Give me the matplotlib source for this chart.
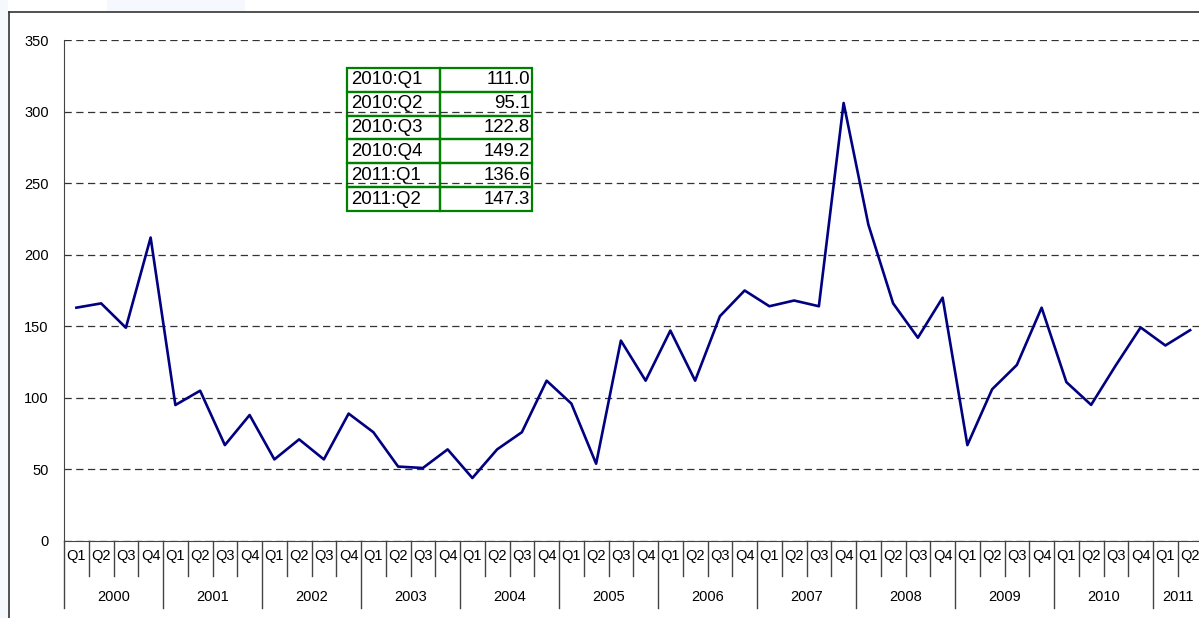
import numpy as np
import matplotlib.pyplot as plt
from matplotlib.transforms import blended_transform_factory
from matplotlib.patches import Rectangle

plt.rcParams['font.family'] = ['Liberation Sans', 'DejaVu Sans']

# --- Données (trimestrielles 2000:Q1 -> 2011:Q2) ---
years = ["2000", "2001", "2002", "2003", "2004", "2005",
         "2006", "2007", "2008", "2009", "2010", "2011"]
quarters = ["Q1", "Q2", "Q3", "Q4"]
values = [163, 166, 149, 212,
          95, 105, 67, 88,
          57, 71, 57, 89,
          76, 52, 51, 64,
          44, 64, 76, 112,
          96, 54, 140, 112,
          147, 112, 157, 175,
          164, 168, 164, 306,
          221, 166, 142, 170,
          67, 106, 123, 163,
          111.0, 95.1, 122.8, 149.2,
          136.6, 147.3]
table_labels = ["2010:Q1", "2010:Q2", "2010:Q3", "2010:Q4", "2011:Q1", "2011:Q2"]
table_values = ["111.0", "95.1", "122.8", "149.2", "136.6", "147.3"]

n = len(values)
x = np.arange(n) + 0.5
qlabels = [quarters[i % 4] for i in range(n)]

# --- Figure ---
W, H = 1199, 618
fig = plt.figure(figsize=(W / 100, H / 100), dpi=100)
ax = fig.add_axes([64 / W, 77 / H, 1138.5 / W, 501 / H])

# cadre extérieur + fond bleuté
fig.patches.append(Rectangle((0, 0), 8 / W, 1, transform=fig.transFigure,
                             facecolor="#f5f8fc", edgecolor="none", zorder=0))
fig.patches.append(Rectangle((107 / W, 1 - 12 / H), 138 / W, 12 / H,
                             transform=fig.transFigure, facecolor="#f5f8fc",
                             edgecolor="none", zorder=0))
fig.lines.append(plt.Line2D([9 / W, 1], [1 - 12 / H, 1 - 12 / H],
                            transform=fig.transFigure, color="#333333", lw=1.2))
fig.lines.append(plt.Line2D([9 / W, 9 / W], [0, 1 - 12 / H],
                            transform=fig.transFigure, color="#333333", lw=1.2))

ax.plot(x, values, color="#000080", linewidth=1.9, zorder=3)

ax.set_xlim(0, n)
ax.set_ylim(0, 350)
ax.set_yticks(np.arange(0, 351, 50))
ax.tick_params(axis="y", length=0, pad=11, labelsize=10.5)
ax.set_xticks([])
ax.yaxis.grid(True, linestyle=(0, (5.8, 3.6)), color="#333333", linewidth=0.9)
ax.set_axisbelow(True)

for s in ["top", "right"]:
    ax.spines[s].set_visible(False)
ax.spines["left"].set_color("#444444")
ax.spines["bottom"].set_color("#444444")

# --- Axe des catégories (trimestres / années) ---
tr = blended_transform_factory(ax.transData, ax.transAxes)
for i in range(n):
    ax.text(x[i], -0.030, qlabels[i], transform=tr, ha="center", va="center",
            fontsize=10.5)
for b in range(n + 1):
    low = -0.134 if b % 4 == 0 else -0.070
    ax.plot([b, b], [0, low], transform=tr, color="#444444", lw=1, clip_on=False)
for k, yr in enumerate(years):
    start = 4 * k
    end = min(4 * k + 4, n)
    ax.text((start + end) / 2, -0.112, yr, transform=tr, ha="center",
            va="center", fontsize=10.5)

# --- Tableau des dernières valeurs ---
cells = [[lab, val] for lab, val in zip(table_labels, table_values)]
tbl = ax.table(cellText=cells, bbox=[0.2486, 0.6587, 0.1625, 0.2854],
               colWidths=[0.5, 0.5])
tbl.auto_set_font_size(False)
for (r, c), cell in tbl.get_celld().items():
    cell.set_edgecolor("#008000")
    cell.set_linewidth(1.6)
    cell.set_facecolor("none")
    cell.get_text().set_fontsize(13.4)
    if c == 0:
        cell.get_text().set_ha("left")
        cell.PAD = 0.04
    else:
        cell.get_text().set_ha("right")
        cell.PAD = 0.02
    cell._loc = "left" if c == 0 else "right"

fig.savefig("out.png", dpi=100)
